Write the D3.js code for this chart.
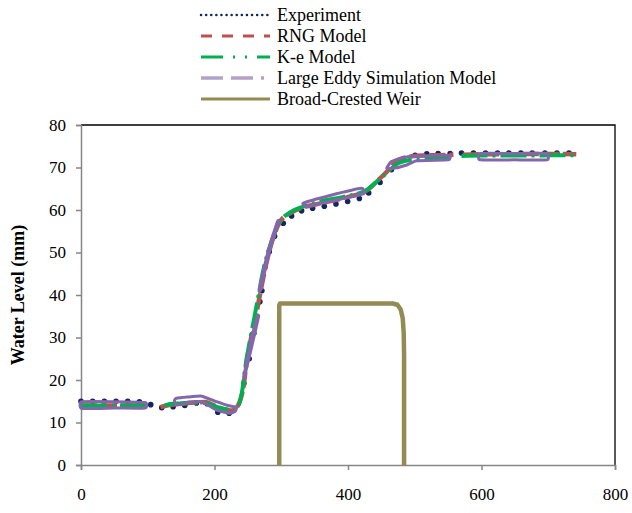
<!DOCTYPE html>
<html>
<head>
  <script src="https://d3js.org/d3.v7.min.js"></script>
  <style>
    body { margin: 0; background: #fff; }
    text { font-family: "Liberation Serif", "Times New Roman", serif; fill: #000; }
  </style>
</head>
<body>
  <svg id="chart"></svg>
  <script>
    // experiment (measured points)
    var experiment = [[0,15.0],[17.5,15.0],[35,15.0],[52.5,15.0],[70,15.0],[87.5,14.9],[104.5,14.2],
      [121,13.5],[138,13.7],[155.5,14.0],[173,14.6],[189,14.4],[205,12.4],[222,12.2],[244,19.2],
      [252,25],[259,31],[268,38.4],[271,41],[276,46.7],[282,50.2],[290,53.8],[303,56.9],[315.5,58.6],
      [330.5,59.8],[347,60.4],[364.5,60.9],[382,61.4],[399.5,62.0],[417,62.7],[431,64.0],[448,66.5],
      [465,69.5],[483,72.0],[500.5,72.9],[518,73.2],[535,73.3],[553,73.3],[570,73.4],[588,73.4],
      [606,73.4],[624,73.4],[641,73.4],[659,73.4],[676,73.4],[695,73.4],[713,73.4],[731,73.4]];

    // RNG model, null = break in the curve
    var rng = [[0,14.0],[30,14.0],[60,14.0],[97,14.0],null,
      [119,13.6],[132,14.1],[150,14.4],[170,14.7],[185,14.8],[200,14.0],[215,13.0],[225,12.8],[233,13.5],
      [238,15],[243,18],[248,24],[255,30],[262,35],[268,40],[273,44],[280,49],[288,53.5],[298,57.2],
      [315,59.4],[333,60.6],[360,61.6],[393,62.8],[420,64],[430,64.8],[445,67],[460,69.3],[475,71.8],
      [490,72.5],[510,72.8],[538,72.9],[558,73.0],null,
      [572,73.0],[600,73.1],[640,73.1],[685,73.2],[710,73.2],[742,73.1]];

    // k-epsilon model
    var ke = [[0,14.0],[30,14.0],[60,14.0],[98,14.0],null,
      [125,13.9],[132,14.3],[150,14.5],[168,14.7],[185,14.6],[203,13.7],[215,13.2],[228,12.9],[236,14],
      [241,17],[247,24],[254,30],[260,35],[266,40],[272,45],[280,50],[290,54.5],[298,57.2],[315,59.6],
      [333,60.8],[358,62],[393,63.1],[428,64.7],[443,66.7],[460,69],[475,71],[503,72],[538,72.2],[553,72.3],null,
      [570,72.7],[600,72.8],[640,72.8],[680,72.8],[703,72.9],[740,72.9]];

    // LES model: closed outlines (upper edge forward, lower edge back)
    var lesLoops = [
      { upper: [[1,14.9],[50,14.9],[96,14.7]], lower: [[96,13.4],[50,13.4],[1,13.3]] },
      { upper: [[140,15.2],[143,15.7],[160,16.0],[181,16.2],[203,14.9],[220,14.0],[233,13.6]],
        lower: [[231,12.6],[223,12.2],[203,12.9],[181,14.9],[161,14.7],[143,14.1]] },
      { upper: [[245,20.8],[256,28],[266,34.9]], lower: [[264,34.9],[253,28],[244,20.8]] },
      { upper: [[269,41.2],[282,50],[296,57.2]], lower: [[294,57.2],[280,50],[267,41.2]] },
      { upper: [[333,61.6],[373,63.4],[420,65.1]], lower: [[423,63.8],[378,62.2],[338,60.8]] },
      { upper: [[458,69.8],[465,71.4],[488,72.5],[550,72.9]], lower: [[553,72.4],[550,71.8],[503,71.6],[488,70.6],[468,69.8]] },
      { upper: [[598,73.3],[650,73.3],[698,73.3]], lower: [[698,71.8],[650,71.8],[598,71.8]] }
    ];

    // broad-crested weir outline
    var weir = [[297,0],[297,37.6],[298,38],[467,38],[474,37.7],[479,36.6],[482,34.5],[483.5,31],[484,26],[484,0]];

    var yTicks = [0,10,20,30,40,50,60,70,80];
    var xTicks = [0,200,400,600,800];

    var legendNames = ['Experiment','RNG Model','K-e Model','Large Eddy Simulation Model','Broad-Crested Weir'];

    var width = 632, height = 513;
    var svg = d3.select('#chart').attr('width', width).attr('height', height);

    var x = d3.scaleLinear().domain([0, 800]).range([81, 615]);
    var y = d3.scaleLinear().domain([0, 80]).range([465, 125]);

    // frame: top and right in black
    svg.append('path')
      .attr('d', 'M' + x(0) + ',' + y(80) + 'H' + x(800) + 'V' + y(0))
      .attr('fill', 'none').attr('stroke', '#000').attr('stroke-width', 1.3);

    // axes
    var yAxis = svg.append('g').attr('transform', 'translate(' + x(0) + ',0)')
      .call(d3.axisLeft(y).tickValues(yTicks).tickSize(5).tickPadding(10));
    var xAxis = svg.append('g').attr('transform', 'translate(0,' + y(0) + ')')
      .call(d3.axisBottom(x).tickValues(xTicks).tickSize(5).tickPadding(18));
    [xAxis, yAxis].forEach(function(a) {
      a.selectAll('path, line').attr('stroke', '#868686').attr('stroke-width', 1.5);
      a.selectAll('text').style('font-family', '"Liberation Serif", serif').style('font-size', '17px').attr('fill', '#000');
    });

    svg.append('text')
      .attr('transform', 'translate(18,' + y(40) + ') rotate(-90)')
      .attr('text-anchor', 'middle')
      .attr('dy', '0.35em')
      .style('font-size', '18px').style('font-weight', 'bold')
      .text('Water Level (mm)');

    var line = d3.line()
      .defined(function(d) { return d !== null; })
      .x(function(d) { return x(d[0]); })
      .y(function(d) { return y(d[1]); })
      .curve(d3.curveMonotoneX);

    // experiment markers
    svg.append('g').selectAll('circle')
      .data(experiment)
      .enter().append('circle')
      .attr('cx', function(d) { return x(d[0]); })
      .attr('cy', function(d) { return y(d[1]); })
      .attr('r', 2.8)
      .attr('fill', '#12275f');

    svg.append('path').datum(rng)
      .attr('d', line)
      .attr('fill', 'none').attr('stroke', '#c0504d').attr('stroke-width', 4.5)
      .attr('stroke-dasharray', '16,4');

    svg.append('path').datum(ke)
      .attr('d', line)
      .attr('fill', 'none').attr('stroke', '#00b050').attr('stroke-width', 4)
      .attr('stroke-dasharray', '26,5,3,5');

    var loopLine = d3.line()
      .x(function(d) { return x(d[0]); })
      .y(function(d) { return y(d[1]); })
      .curve(d3.curveCardinalClosed.tension(0.6));

    svg.append('g').selectAll('path')
      .data(lesLoops)
      .enter().append('path')
      .attr('d', function(d) { return loopLine(d.upper.concat(d.lower)); })
      .attr('fill', 'none').attr('stroke', '#8466ad').attr('stroke-width', 3)
      .attr('stroke-linejoin', 'round');

    svg.append('path').datum(weir)
      .attr('d', d3.line().x(function(d) { return x(d[0]); }).y(function(d) { return y(d[1]); }).curve(d3.curveLinear))
      .attr('fill', 'none').attr('stroke', '#948a54').attr('stroke-width', 4.5)
      .attr('stroke-linejoin', 'round');

    // legend
    var legendStyles = [
      { stroke: '#12275f', width: 2.5, dash: '0.1,5', cap: 'round' },
      { stroke: '#c0504d', width: 3, dash: '11,10', cap: 'butt' },
      { stroke: '#00b050', width: 3, dash: '22,10,2,10,2,10', cap: 'butt' },
      { stroke: '#b3a2c7', width: 3.5, dash: '22,8,22,8,3', cap: 'butt' },
      { stroke: '#948a54', width: 3, dash: null, cap: 'butt' }
    ];
    var legend = svg.append('g');
    legendNames.forEach(function(name, i) {
      var ly = 15 + i * 21;
      var s = legendStyles[i];
      legend.append('line')
        .attr('x1', 201).attr('x2', 270).attr('y1', ly).attr('y2', ly)
        .attr('stroke', s.stroke).attr('stroke-width', s.width)
        .attr('stroke-dasharray', s.dash).attr('stroke-linecap', s.cap);
      legend.append('text')
        .attr('x', 277).attr('y', ly).attr('dy', '0.35em')
        .style('font-size', '18px')
        .text(name);
    });
  </script>
</body>
</html>
